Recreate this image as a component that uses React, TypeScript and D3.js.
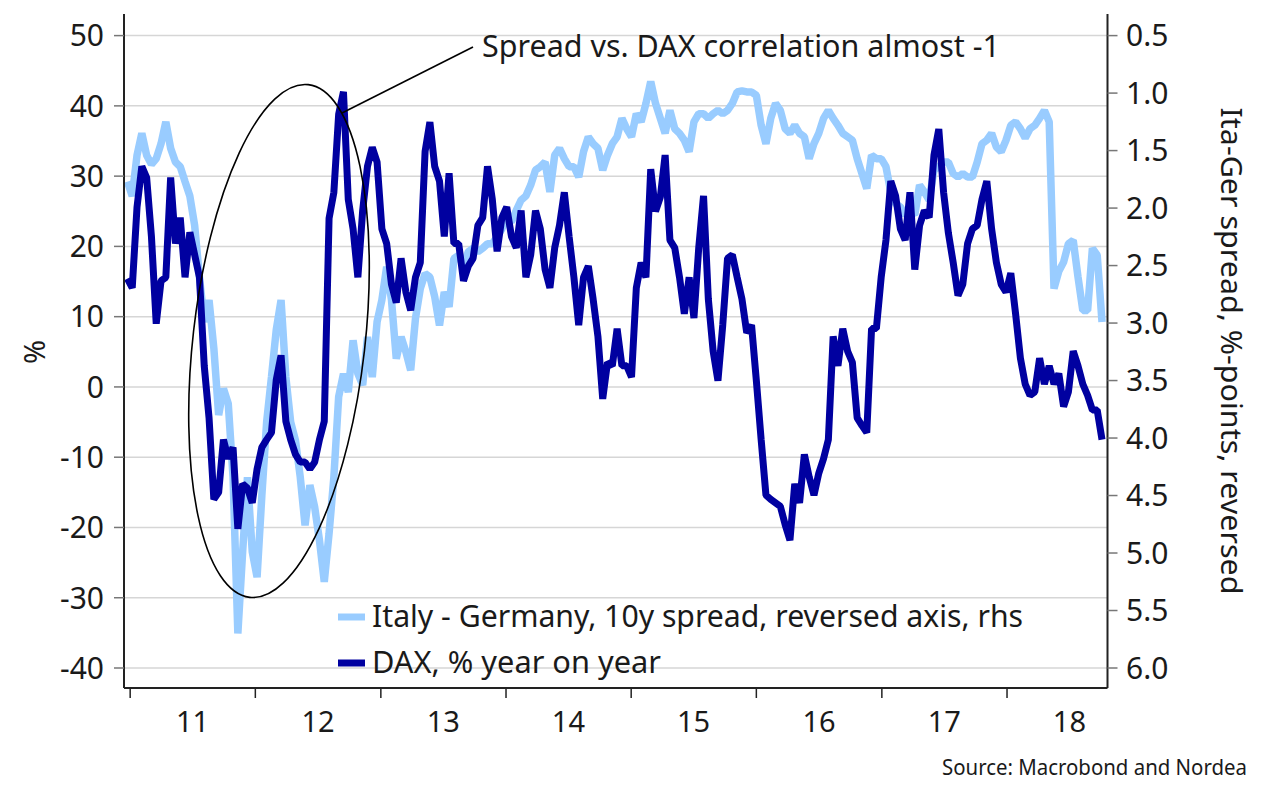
import React from "react";
import * as d3 from "d3";

// ---- data (bi-weekly observations, first one 2010-12-24) ----
const firstObs = new Date(2010, 11, 24);
const stepDays = 14;

// DAX, % y/y (left axis)
const daxYoY: number[] = [
  15.4, 14.1, 25.6, 31.4, 29.8, 21.4, 9, 15.1, 15.6, 29.8, 20.4, 24.1, 15.6, 22, 18.8, 15.6, 3, -4.4, -16, -15, -7.5, -10.2, -8.6, -20.2, -13.8, -14.4, -16.5, -11.7, -8.6, -7.5, -6.5, 1, 4.5, -4.9, -7.5, -9.6, -10.7, -10.7, -11.7, -10.7, -7.5, -4.9, 24, 27.7, 38.8, 42, 26.7, 22.5, 15.6, 25.1, 31.4,
  34.1, 32, 22.5, 20.4, 14.6, 12, 18.3, 13.5, 10.9, 15.6, 17.7, 33.5, 37.7, 31.4, 29.3, 21.4, 30.4, 20.4, 20.4, 15.1, 17.2, 18.3, 23, 24.1, 31.4, 26.7, 19.3, 24.1, 25.6, 21.4, 19.8, 25.1, 15.6, 18.8, 25.1, 22.5, 16.7, 14.1, 19.8, 23, 27.7, 21.4, 15.6, 8.8, 15.6, 17.2, 12.5, 7.2, -1.7, 3.5, 3,
  8.3, 3, 3, 1.4, 14.1, 17.7, 15.6, 31, 25, 27, 33, 20.9, 19.8, 15.6, 10.4, 15.6, 9.8, 19.8, 27.2, 12.5, 5.1, 0.9, 8.8, 18.3, 18.8, 15.6, 12.5, 7.7, 8.8, 0.9, -7.5, -15.4, -16, -16.5, -17, -19.6, -21.8, -13.8, -16.5, -9.6, -12.8, -15.4, -12.3, -10.2, -7.5, 7.2, 3, 8.3, 5.1, 3.5, -4.4,
  -5.5, -6.5, 8.3, 8.3, 15.6, 20.9, 29.3, 27.2, 22.5, 20.9, 27.7, 16.7, 23, 25.1, 24.1, 33, 36.7, 27.7, 21.9, 17.7, 13, 14.6, 20.4, 22.5, 23, 26.7, 29.3, 22.5, 17.7, 14.6, 13.5, 16.2, 10.4, 4.1, 0.4, -1.2, -0.7, 4.1, 0.4, 3, 0.4, 1.9, -2.8, -0.7, 5.1, 3, 0.4, -1.2, -3.3, -3.3, -7.5,
];

// Italy - Germany 10y spread, %-points (right axis, reversed)
const itaGerSpread: number[] = [
  1.77, 1.895, 1.54, 1.35, 1.54, 1.62, 1.57, 1.44, 1.25, 1.48, 1.6, 1.64, 1.77, 1.895, 2.15, 2.6, 2.99, 2.8, 3.22, 3.8, 3.57, 3.7, 4.34, 5.7, 4.99, 4.34, 4.99, 5.21, 4.5, 3.86, 3.47, 3.06, 2.8, 3.47, 3.86, 4.02, 4.34, 4.76, 4.41, 4.6, 4.89, 5.25, 4.83, 4.34, 3.64, 3.44, 3.6, 3.15, 3.44, 3.54, 3.12,
  3.47, 2.99, 2.8, 2.51, 2.8, 3.31, 3.12, 3.25, 3.41, 2.96, 2.7, 2.57, 2.6, 2.77, 3.02, 2.73, 2.86, 2.44, 2.41, 2.51, 2.38, 2.35, 2.38, 2.35, 2.31, 2.31, 2.25, 2.18, 2.09, 2.12, 2.02, 1.93, 1.895, 1.8, 1.67, 1.64, 1.6, 1.86, 1.54, 1.48, 1.57, 1.64, 1.64, 1.73, 1.51, 1.38, 1.44, 1.48, 1.67, 1.54, 1.44,
  1.38, 1.22, 1.31, 1.38, 1.18, 1.25, 1.09, 0.9, 1.09, 1.22, 1.35, 1.15, 1.31, 1.35, 1.41, 1.51, 1.25, 1.18, 1.18, 1.22, 1.18, 1.15, 1.18, 1.15, 1.09, 0.99, 0.98, 0.99, 0.99, 1.02, 1.28, 1.44, 1.22, 1.09, 1.15, 1.31, 1.35, 1.28, 1.35, 1.38, 1.57, 1.44, 1.35, 1.22, 1.15, 1.22, 1.28, 1.35, 1.38, 1.41, 1.57,
  1.7, 1.83, 1.54, 1.57, 1.57, 1.64, 1.86, 1.96, 1.99, 2.06, 2.02, 2.06, 1.8, 1.86, 1.93, 1.67, 1.64, 1.6, 1.6, 1.7, 1.73, 1.7, 1.73, 1.73, 1.6, 1.44, 1.41, 1.35, 1.47, 1.51, 1.41, 1.28, 1.25, 1.31, 1.39, 1.31, 1.28, 1.22, 1.15, 1.25, 2.7, 2.55, 2.47, 2.31, 2.28, 2.6, 2.89, 2.89, 2.35, 2.41, 2.99,
];

const leftTicks = [50, 40, 30, 20, 10, 0, -10, -20, -30, -40];
const rightTicks = [0.5, 1.0, 1.5, 2.0, 2.5, 3.0, 3.5, 4.0, 4.5, 5.0, 5.5, 6.0];
const yearTicks = [2011, 2012, 2013, 2014, 2015, 2016, 2017, 2018];
const yearLabels = ["11", "12", "13", "14", "15", "16", "17", "18"];

const titleText = "Spread vs. DAX correlation almost -1";
const legendSpread = "Italy - Germany, 10y spread, reversed axis, rhs";
const legendDax = "DAX, % year on year";
const leftTitle = "%";
const rightTitle = "Ita-Ger spread, %-points, reversed";
const sourceText = "Source: Macrobond and Nordea";

const LIGHT = "#99ccff";
const DARK = "#0000a0";
const FONT = "'Noto Sans', 'Open Sans', sans-serif";

export default function App() {
  const W = 1267, H = 801;
  const left = 124, right = 1107.5, top = 35.6, bottom = 668, axisY = 688;

  const x = d3.scaleTime()
    .domain([new Date(2010, 11, 14), new Date(2018, 9, 21)])
    .range([left, right]);
  const yL = d3.scaleLinear().domain([-40, 50]).range([bottom, top]);
  const yR = d3.scaleLinear().domain([0.5, 6.0]).range([top, bottom]);

  const dates = daxYoY.map((_, i) => d3.timeDay.offset(firstObs, i * stepDays));

  const daxLine = d3.line<number>()
    .x((_, i) => x(dates[i]))
    .y((d) => yL(d));
  const spreadLine = d3.line<number>()
    .x((_, i) => x(dates[i]))
    .y((d) => yR(d));

  const txt = "#1a1a1a";

  return (
    <svg width={W} height={H} style={{ position: "absolute", left: 0, top: 0, background: "#fff" }} fontFamily={FONT}>
      {/* gridlines */}
      {leftTicks.map((v) => (
        <line key={"g" + v} x1={left} x2={right} y1={yL(v)} y2={yL(v)} stroke="#d6d6d6" strokeWidth={1.5} />
      ))}

      {/* series */}
      <path d={spreadLine(itaGerSpread) || ""} fill="none" stroke={LIGHT} strokeWidth={7.5} strokeLinejoin="bevel" />
      <path d={daxLine(daxYoY) || ""} fill="none" stroke={DARK} strokeWidth={7} strokeLinejoin="bevel" />

      {/* axes */}
      <line x1={left} x2={left} y1={14} y2={axisY} stroke="#222" strokeWidth={2} />
      <line x1={right} x2={right} y1={14} y2={axisY} stroke="#222" strokeWidth={2} />
      <line x1={left} x2={right} y1={axisY} y2={axisY} stroke="#222" strokeWidth={2} />

      {leftTicks.map((v) => (
        <g key={"l" + v}>
          <line x1={114} x2={left} y1={yL(v)} y2={yL(v)} stroke="#777" strokeWidth={1.5} />
          <text x={104} y={yL(v)} dy="0.36em" textAnchor="end" fontSize={30} fill={txt}>{v}</text>
        </g>
      ))}
      {rightTicks.map((v) => (
        <g key={"r" + v}>
          <line x1={right} x2={right + 10} y1={yR(v)} y2={yR(v)} stroke="#777" strokeWidth={1.5} />
          <text x={1126} y={yR(v)} dy="0.36em" textAnchor="start" fontSize={30} fill={txt}>{v.toFixed(1)}</text>
        </g>
      ))}
      {yearTicks.map((yr, i) => (
        <g key={"x" + yr}>
          <line x1={x(new Date(yr, 0, 1))} x2={x(new Date(yr, 0, 1))} y1={axisY} y2={axisY + 10} stroke="#222" strokeWidth={1.5} />
          <text x={x(new Date(yr, 6, 2))} y={732} textAnchor="middle" fontSize={29} fill={txt}>{yearLabels[i]}</text>
        </g>
      ))}

      {/* axis titles */}
      <text transform="translate(45,352) rotate(-90)" textAnchor="middle" fontSize={29} fill={txt}>{leftTitle}</text>
      <text transform="translate(1221,351) rotate(90)" textAnchor="middle" fontSize={29} fill={txt} textLength={487} lengthAdjust="spacingAndGlyphs">{rightTitle}</text>

      {/* annotation */}
      <ellipse cx={279} cy={341} rx={86} ry={258} transform="rotate(6.5 279 341)" fill="none" stroke="#000" strokeWidth={1.6} />
      <line x1={473} y1={47} x2={342} y2={113} stroke="#000" strokeWidth={1.6} />
      <text x={482} y={57} fontSize={30} fill={txt} textLength={518} lengthAdjust="spacingAndGlyphs">{titleText}</text>

      {/* legend */}
      <line x1={338} x2={365} y1={617} y2={617} stroke={LIGHT} strokeWidth={7} />
      <text x={372} y={627} fontSize={30} fill={txt} textLength={651} lengthAdjust="spacingAndGlyphs">{legendSpread}</text>
      <line x1={338} x2={365} y1={663} y2={663} stroke={DARK} strokeWidth={7} />
      <text x={372} y={673} fontSize={30} fill={txt} textLength={289} lengthAdjust="spacingAndGlyphs">{legendDax}</text>

      {/* source */}
      <text x={1247} y={775} textAnchor="end" fontSize={21} fill={txt} textLength={305} lengthAdjust="spacingAndGlyphs">{sourceText}</text>
    </svg>
  );
}
